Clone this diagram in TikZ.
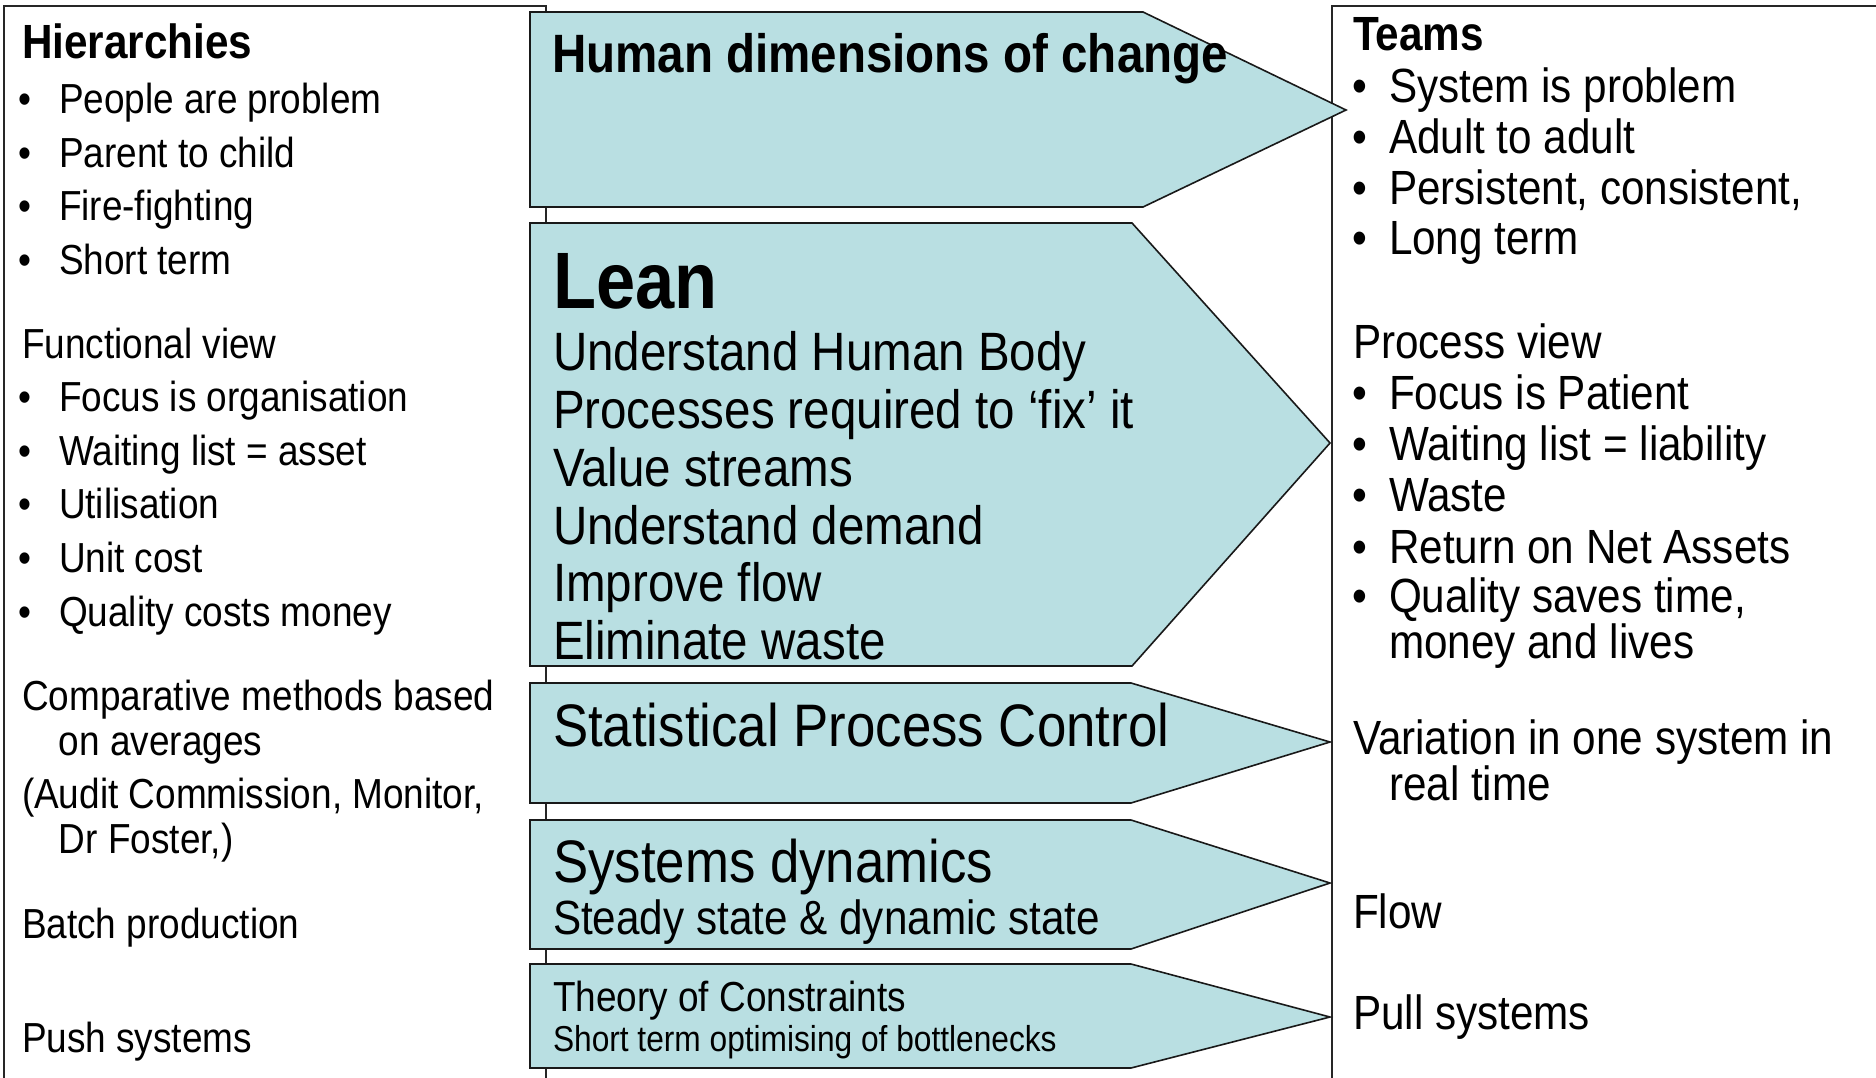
\documentclass[tikz,border=0pt]{standalone}
\usepackage{fontspec}
\setmainfont{Liberation Sans}[FakeStretch=0.88]
\definecolor{arrowfill}{RGB}{185,223,226}
\newcommand{\twolines}[3]{\vtop{\lineskiplimit=-200pt\baselineskip=#3\hbox{#1}\hbox{#2}}}
\begin{document}
\begin{tikzpicture}[x=1pt,y=-1pt,
  every node/.style={inner sep=0pt, outer sep=0pt, anchor=base west},
  boxline/.style={draw=black!85, line width=1.6pt},
  chevron/.style={draw=black!90, line width=1.6pt, fill=arrowfill, line join=miter},
  fL/.style={font=\fontsize{42}{50}\selectfont},
  fR/.style={font=\fontsize{48}{56}\selectfont},
  fT/.style={font=\fontsize{48}{56}\selectfont\bfseries},
  fHum/.style={font=\fontsize{54}{60}\selectfont\bfseries},
  fLean/.style={font=\fontsize{80}{90}\selectfont\bfseries},
  fLi/.style={font=\fontsize{54}{60}\selectfont},
  fBig/.style={font=\fontsize{60}{66}\selectfont},
  fMid/.style={font=\fontsize{48}{56}\selectfont},
  fToc/.style={font=\fontsize{42}{50}\selectfont},
  fSm/.style={font=\fontsize{36}{42}\selectfont}
]
\useasboundingbox (0,0) rectangle (1876,1077);
\clip (0,0) rectangle (1876,1077);
\fill[white] (0,0) rectangle (1876,1077);

% columns
\draw[boxline] (4,6) rectangle (546,1120);
\draw[boxline] (1332,6) rectangle (1920,1120);

% chevrons
\draw[chevron] (530,12) coordinate (h1) -- (1143,12) -- (1346,110) coordinate (htip) -- (1143,207) -- (530,207) -- cycle;
\draw[chevron] (530,223) coordinate (l1) -- (1132,223) -- (1330,443) coordinate (ltip) -- (1132,666) -- (530,666) -- cycle;
\draw[chevron] (530,683) coordinate (s1) -- (1131,683) -- (1330,742) coordinate (stip) -- (1131,803) -- (530,803) -- cycle;
\draw[chevron] (530,820) coordinate (d1) -- (1131,820) -- (1330,883) coordinate (dtip) -- (1131,949) -- (530,949) -- cycle;
\draw[chevron] (530,964) coordinate (t1) -- (1131,964) -- (1330,1017) coordinate (ttip) -- (1131,1068) -- (530,1068) -- cycle;

% chevron texts
\node[fHum] (hum) at (552,72) {Human dimensions of change};
\node[fLean] (lean) at (553,308) {Lean};
\node[fLi] (lean1) at (553,370) {Understand Human Body};
\node[fLi] (lean2) at (553,428) {Processes required to ‘fix’ it};
\node[fLi] (lean3) at (553,486) {Value streams};
\node[fLi] (lean4) at (553,544) {Understand demand};
\node[fLi] (lean5) at (553,601) {Improve flow};
\node[fLi] (lean6) at (553,659) {Eliminate waste};
\node[fBig] (spc) at (553,746) {Statistical Process Control};
\node[fBig] (sd) at (553,882) {Systems dynamics};
\node[fMid] (sd2) at (553,934) {Steady state \& dynamic state};
\node[fToc] (toc) at (553,1011) {Theory of Constraints};
\node[fSm] (toc2) at (553,1051) {Short term optimising of bottlenecks};

% left column
\node[fT] (lhead) at (22,58) {Hierarchies};
\node[fL] (lb1) at (19,113) {\textbullet};
\node[fL] (lt1) at (59,113) {People are problem};
\node[fL] (lb2) at (19,167) {\textbullet};
\node[fL] (lt2) at (59,167) {Parent to child};
\node[fL] (lb3) at (19,220) {\textbullet};
\node[fL] (lt3) at (59,220) {Fire-fighting};
\node[fL] (lb4) at (19,274) {\textbullet};
\node[fL] (lt4) at (59,274) {Short term};
\node[fL] (lfun) at (22,358) {Functional view};
\node[fL] (lb5) at (19,411) {\textbullet};
\node[fL] (lt5) at (59,411) {Focus is organisation};
\node[fL] (lb6) at (19,465) {\textbullet};
\node[fL] (lt6) at (59,465) {Waiting list = asset};
\node[fL] (lb7) at (19,518) {\textbullet};
\node[fL] (lt7) at (59,518) {Utilisation};
\node[fL] (lb8) at (19,572) {\textbullet};
\node[fL] (lt8) at (59,572) {Unit cost};
\node[fL] (lb9) at (19,626) {\textbullet};
\node[fL] (lt9) at (59,626) {Quality costs money};
\node[fL] (lcmp) at (22,710) {\twolines{Comparative methods based}{\hspace*{37pt}on averages}{45pt}};
\node[fL] (laud) at (22,808) {\twolines{(Audit Commission, Monitor,}{\hspace*{37pt}Dr Foster,)}{45pt}};
\node[fL] (lbat) at (22,938) {Batch production};
\node[fL] (lpush) at (22,1052) {Push systems};

% right column
\node[fT] (rhead) at (1353,50) {Teams};
\node[fR] (rb1) at (1352,102) {\textbullet};
\node[fR] (rt1) at (1389,102) {System is problem};
\node[fR] (rb2) at (1352,153) {\textbullet};
\node[fR] (rt2) at (1389,153) {Adult to adult};
\node[fR] (rb3) at (1352,204) {\textbullet};
\node[fR] (rt3) at (1389,204) {Persistent, consistent,};
\node[fR] (rb4) at (1352,254) {\textbullet};
\node[fR] (rt4) at (1389,254) {Long term};
\node[fR] (rproc) at (1353,358) {Process view};
\node[fR] (rb5) at (1352,409) {\textbullet};
\node[fR] (rt5) at (1389,409) {Focus is Patient};
\node[fR] (rb6) at (1352,460) {\textbullet};
\node[fR] (rt6) at (1389,460) {Waiting list = liability};
\node[fR] (rb7) at (1352,511) {\textbullet};
\node[fR] (rt7) at (1389,511) {Waste};
\node[fR] (rb8) at (1352,563) {\textbullet};
\node[fR] (rt8) at (1389,563) {Return on Net Assets};
\node[fR] (rb9) at (1352,612) {\textbullet};
\node[fR] (rt9) at (1389,612) {\twolines{Quality saves time,}{money and lives}{46pt}};
\node[fR] (rvar) at (1353,754) {\twolines{Variation in one system in}{\hspace*{36pt}real time}{46pt}};
\node[fR] (rflow) at (1353,928) {Flow};
\node[fR] (rpull) at (1353,1029) {Pull systems};
\end{tikzpicture}
\end{document}
